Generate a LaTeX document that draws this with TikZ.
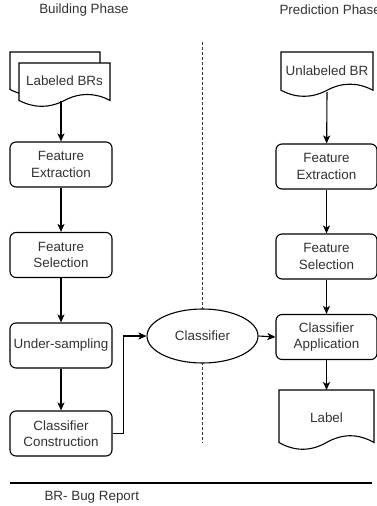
\documentclass[tikz,border=0pt]{standalone}
\usepackage{fontspec}
\setmainfont{Liberation Sans}
\usetikzlibrary{arrows.meta,calc,shapes.geometric}
\definecolor{txt}{HTML}{333333}
\newcommand\docpath[2]{%
 \draw[ln,fill=white] (#1.north west) -- (#1.north east)
  -- ($(#1.south east)+(0,-0.5*#2)$)
  .. controls ($(#1.south west)!0.8333!(#1.south east)+(0,-1.1*#2)$) and ($(#1.south west)!0.6667!(#1.south east)+(0,-1.1*#2)$)
  .. ($(#1.south)+(0,-0.5*#2)$)
  .. controls ($(#1.south west)!0.3333!(#1.south east)+(0,0.1*#2)$) and ($(#1.south west)!0.1667!(#1.south east)+(0,0.1*#2)$)
  .. ($(#1.south west)+(0,-0.5*#2)$) -- cycle;}
\tikzset{
  ln/.style={line width=1.1pt, black},
  txtstyle/.style={text=txt, font=\fontsize{13.4}{16.5}\selectfont, align=center},
  procbox/.style={ln, draw, fill=white, rounded corners=6pt, minimum height=45, inner sep=0pt, txtstyle},
  docarea/.style={inner sep=0pt, outer sep=0pt, draw=none},
  arr/.style={ln, -{Stealth[length=8pt,width=7pt,inset=2pt]}},
}
\begin{document}
\begin{tikzpicture}[x=1pt,y=-1pt]
\useasboundingbox (0,0) rectangle (377,506);
% titles
\node[txtstyle] (t1) at (84,10) {Building Phase};
\node[txtstyle, anchor=west] (t2) at (276,10) {Prediction Phase};
% divider
\coordinate (d1) at (202,42);
\coordinate (d2) at (202,443);
\draw[line width=1pt, dash pattern=on 3pt off 2pt, black!80] (d1) -- (d2);
% left documents
\node[docarea, minimum width=90, minimum height=44] (lbrb) at (55,74) {};
\docpath{lbrb}{13.2}
\node[docarea, minimum width=91, minimum height=44] (lbr) at (64.5,85) {};
\docpath{lbr}{13.2}
\node[txtstyle] (lbrt) at (64.5,81) {Labeled BRs};
\coordinate (lbrs) at (61,101);
% left boxes
\node[procbox, minimum width=102] (fel) at (61,164.5) {Feature\\Extraction};
\node[procbox, minimum width=102] (fsl) at (61,255) {Feature\\Selection};
\node[procbox, minimum width=102] (us) at (61,345.5) {Under-sampling};
\node[procbox, minimum width=102] (cc) at (61,433.5) {Classifier\\Construction};
% classifier
\node[ellipse, ln, draw, fill=white, minimum width=111, minimum height=54, inner sep=0pt, txtstyle] (cls) at (202.5,336) {Classifier};
% right documents and boxes
\node[docarea, minimum width=92, minimum height=45] (ubr) at (327,74.5) {};
\docpath{ubr}{13.5}
\node[txtstyle] (ubrt) at (327,71) {Unlabeled BR};
\coordinate (ubrs) at (327,92);
\node[procbox, minimum width=101] (fer) at (326.5,166.5) {Feature\\Extraction};
\node[procbox, minimum width=101] (fsr) at (326.5,256.5) {Feature\\Selection};
\node[procbox, minimum width=101] (ca) at (326.5,337) {Classifier\\Application};
\node[docarea, minimum width=95, minimum height=60] (lab) at (326.5,420) {};
\docpath{lab}{15}
\node[txtstyle] (labt) at (326.5,418) {Label};
\coordinate (labn) at (326.5,390);
% connectors
\draw[arr] (lbrs) -- (fel);
\draw[arr] (fel) -- (fsl);
\draw[arr] (fsl) -- (us);
\draw[arr] (us) -- (cc);
\draw[arr] (cc.east) -- ++(11,0) |- (cls.west);
\draw[arr] (cls.east) -- (ca.west);
\draw[arr] (ubrs) -- (fer);
\draw[arr] (fer) -- (fsr);
\draw[arr] (fsr) -- (ca);
\draw[arr] (ca) -- (labn);
% footer
\coordinate (f1) at (10,483);
\coordinate (f2) at (372,483);
\draw[line width=2pt] (f1) -- (f2);
\node[txtstyle, anchor=west] (br) at (41,497) {BR- Bug Report};
\end{tikzpicture}
\end{document}
